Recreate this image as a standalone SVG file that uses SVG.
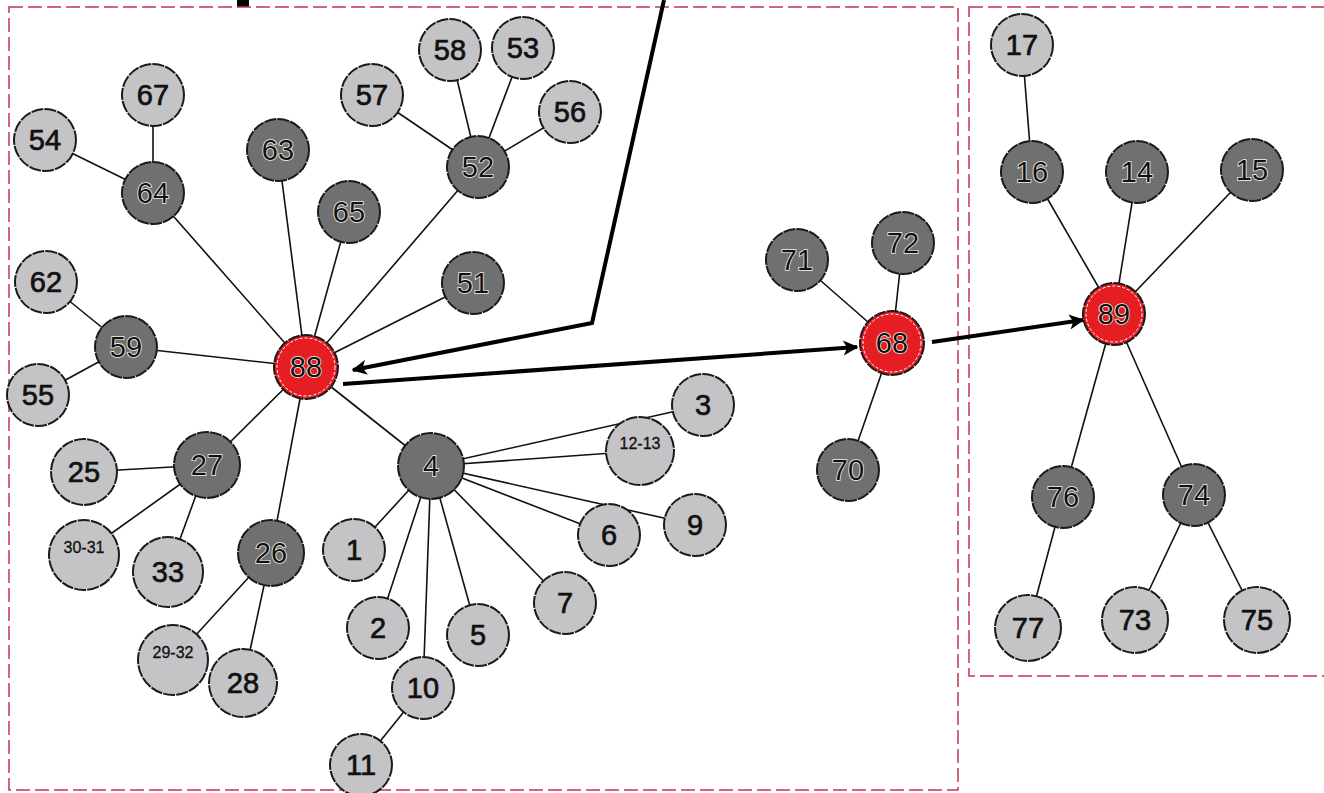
<svg xmlns="http://www.w3.org/2000/svg" width="1324" height="793" viewBox="0 0 1324 793">
<defs>
<style>
.box{fill:none;stroke:#c0394f;stroke-width:1.5;stroke-dasharray:14 5}
.e{stroke:#111;stroke-width:1.6;fill:none}
.a{stroke:#000;stroke-width:4;fill:none;stroke-linejoin:miter}
.n circle.b{stroke:#1a1a1a;stroke-width:2;stroke-dasharray:12 1.2}
.l circle.b{fill:#c4c4c6}
.d circle.b{fill:#707070}
.r circle.b{fill:#e41e23}
.r circle.i{fill:none;stroke:#fff;stroke-width:1;stroke-dasharray:3 2}
text{font-family:"Liberation Sans",Arial,sans-serif;font-size:29px;fill:#111;text-anchor:middle}
.l text{stroke:#111;stroke-width:0.7}
.d text,.r text{stroke:#f4f0e8;stroke-width:1.6;paint-order:stroke;fill:#111}
text.s{font-size:16px;stroke-width:0.3}
</style>
<marker id="ah" viewBox="0 0 10 10" refX="9" refY="5" markerWidth="4.6" markerHeight="3.8" orient="auto" markerUnits="strokeWidth">
<path d="M0,0 L10,5 L0,10 L2.5,5 Z" fill="#000"/>
</marker>
</defs>
<rect width="1324" height="793" fill="#fff"/>
<rect x="237" y="0" width="12" height="7" fill="#000"/>
<rect class="box" x="9" y="7" width="949" height="783"/>
<rect class="box" x="969" y="7" width="362" height="669"/>
<g id="connectors">
<line class="e" x1="306" y1="367" x2="153" y2="193"/>
<line class="e" x1="306" y1="367" x2="278" y2="150"/>
<line class="e" x1="306" y1="367" x2="349" y2="212"/>
<line class="e" x1="306" y1="367" x2="478" y2="167"/>
<line class="e" x1="306" y1="367" x2="473" y2="283"/>
<line class="e" x1="306" y1="367" x2="126" y2="347"/>
<line class="e" x1="306" y1="367" x2="207" y2="465"/>
<line class="e" x1="306" y1="367" x2="271" y2="553"/>
<line class="e" x1="306" y1="367" x2="431" y2="466"/>
<line class="e" x1="153" y1="193" x2="45" y2="140"/>
<line class="e" x1="153" y1="193" x2="153" y2="95"/>
<line class="e" x1="126" y1="347" x2="46" y2="282"/>
<line class="e" x1="126" y1="347" x2="38" y2="395"/>
<line class="e" x1="478" y1="167" x2="372" y2="95"/>
<line class="e" x1="478" y1="167" x2="450" y2="50"/>
<line class="e" x1="478" y1="167" x2="523" y2="48"/>
<line class="e" x1="478" y1="167" x2="570" y2="112"/>
<line class="e" x1="207" y1="465" x2="84" y2="472"/>
<line class="e" x1="207" y1="465" x2="84" y2="553"/>
<line class="e" x1="207" y1="465" x2="168" y2="572"/>
<line class="e" x1="271" y1="553" x2="173" y2="660"/>
<line class="e" x1="271" y1="553" x2="243" y2="683"/>
<line class="e" x1="431" y1="466" x2="703" y2="405"/>
<line class="e" x1="431" y1="466" x2="640" y2="451"/>
<line class="e" x1="431" y1="466" x2="695" y2="525"/>
<line class="e" x1="431" y1="466" x2="609" y2="535"/>
<line class="e" x1="431" y1="466" x2="565" y2="603"/>
<line class="e" x1="431" y1="466" x2="478" y2="635"/>
<line class="e" x1="431" y1="466" x2="423" y2="688"/>
<line class="e" x1="431" y1="466" x2="378" y2="628"/>
<line class="e" x1="431" y1="466" x2="354" y2="550"/>
<line class="e" x1="423" y1="688" x2="361" y2="765"/>
<line class="e" x1="892" y1="343" x2="797" y2="260"/>
<line class="e" x1="892" y1="343" x2="903" y2="243"/>
<line class="e" x1="892" y1="343" x2="848" y2="470"/>
<line class="e" x1="1114" y1="314" x2="1032" y2="172"/>
<line class="e" x1="1114" y1="314" x2="1137" y2="172"/>
<line class="e" x1="1114" y1="314" x2="1252" y2="170"/>
<line class="e" x1="1114" y1="314" x2="1063" y2="497"/>
<line class="e" x1="1114" y1="314" x2="1194" y2="495"/>
<line class="e" x1="1032" y1="172" x2="1022" y2="45"/>
<line class="e" x1="1063" y1="497" x2="1028" y2="628"/>
<line class="e" x1="1194" y1="495" x2="1135" y2="620"/>
<line class="e" x1="1194" y1="495" x2="1257" y2="620"/>
<polyline class="a" points="664,0 592,323 353,370" marker-end="url(#ah)"/>
<line class="a" x1="343" y1="384" x2="857" y2="347" marker-end="url(#ah)"/>
<line class="a" x1="932" y1="342" x2="1083" y2="320" marker-end="url(#ah)"/>
</g>
<g id="nodes">
<g id="n58" class="n l"><circle class="b" cx="450" cy="50" r="31"/><text x="450" y="60">58</text></g>
<g id="n53" class="n l"><circle class="b" cx="523" cy="48" r="31"/><text x="523" y="58">53</text></g>
<g id="n17" class="n l"><circle class="b" cx="1022" cy="45" r="31"/><text x="1022" y="55">17</text></g>
<g id="n67" class="n l"><circle class="b" cx="153" cy="95" r="31"/><text x="153" y="105">67</text></g>
<g id="n57" class="n l"><circle class="b" cx="372" cy="95" r="31"/><text x="372" y="105">57</text></g>
<g id="n56" class="n l"><circle class="b" cx="570" cy="112" r="31"/><text x="570" y="122">56</text></g>
<g id="n54" class="n l"><circle class="b" cx="45" cy="140" r="31"/><text x="45" y="150">54</text></g>
<g id="n63" class="n d"><circle class="b" cx="278" cy="150" r="31"/><text x="278" y="160">63</text></g>
<g id="n52" class="n d"><circle class="b" cx="478" cy="167" r="31"/><text x="478" y="177">52</text></g>
<g id="n16" class="n d"><circle class="b" cx="1032" cy="172" r="31"/><text x="1032" y="182">16</text></g>
<g id="n14" class="n d"><circle class="b" cx="1137" cy="172" r="31"/><text x="1137" y="182">14</text></g>
<g id="n15" class="n d"><circle class="b" cx="1252" cy="170" r="31"/><text x="1252" y="180">15</text></g>
<g id="n64" class="n d"><circle class="b" cx="153" cy="193" r="31"/><text x="153" y="203">64</text></g>
<g id="n65" class="n d"><circle class="b" cx="349" cy="212" r="31"/><text x="349" y="222">65</text></g>
<g id="n71" class="n d"><circle class="b" cx="797" cy="260" r="31"/><text x="797" y="270">71</text></g>
<g id="n72" class="n d"><circle class="b" cx="903" cy="243" r="31"/><text x="903" y="253">72</text></g>
<g id="n51" class="n d"><circle class="b" cx="473" cy="283" r="31"/><text x="473" y="293">51</text></g>
<g id="n62" class="n l"><circle class="b" cx="46" cy="282" r="31"/><text x="46" y="292">62</text></g>
<g id="n59" class="n d"><circle class="b" cx="126" cy="347" r="31"/><text x="126" y="357">59</text></g>
<g id="n55" class="n l"><circle class="b" cx="38" cy="395" r="31"/><text x="38" y="405">55</text></g>
<g id="n89" class="n r"><circle class="b" cx="1114" cy="314" r="31"/><circle class="i" cx="1114" cy="314" r="28"/><text x="1114" y="324">89</text></g>
<g id="n88" class="n r"><circle class="b" cx="306" cy="367" r="32"/><circle class="i" cx="306" cy="367" r="29"/><text x="306" y="377">88</text></g>
<g id="n68" class="n r"><circle class="b" cx="892" cy="343" r="32"/><circle class="i" cx="892" cy="343" r="29"/><text x="892" y="353">68</text></g>
<g id="n3" class="n l"><circle class="b" cx="703" cy="405" r="31"/><text x="703" y="415">3</text></g>
<g id="n12-13" class="n l"><circle class="b" cx="640" cy="451" r="34"/><text class="s" x="640" y="449">12-13</text></g>
<g id="n4" class="n d"><circle class="b" cx="431" cy="466" r="33"/><text x="431" y="476">4</text></g>
<g id="n27" class="n d"><circle class="b" cx="207" cy="465" r="33"/><text x="207" y="475">27</text></g>
<g id="n25" class="n l"><circle class="b" cx="84" cy="472" r="33"/><text x="84" y="482">25</text></g>
<g id="n70" class="n d"><circle class="b" cx="848" cy="470" r="31"/><text x="848" y="480">70</text></g>
<g id="n76" class="n d"><circle class="b" cx="1063" cy="497" r="31"/><text x="1063" y="507">76</text></g>
<g id="n74" class="n d"><circle class="b" cx="1194" cy="495" r="31"/><text x="1194" y="505">74</text></g>
<g id="n30-31" class="n l"><circle class="b" cx="84" cy="555" r="35"/><text class="s" x="84" y="553">30-31</text></g>
<g id="n9" class="n l"><circle class="b" cx="695" cy="525" r="31"/><text x="695" y="535">9</text></g>
<g id="n6" class="n l"><circle class="b" cx="609" cy="535" r="31"/><text x="609" y="545">6</text></g>
<g id="n26" class="n d"><circle class="b" cx="271" cy="553" r="33"/><text x="271" y="563">26</text></g>
<g id="n33" class="n l"><circle class="b" cx="168" cy="572" r="35"/><text x="168" y="582">33</text></g>
<g id="n1" class="n l"><circle class="b" cx="354" cy="550" r="31"/><text x="354" y="560">1</text></g>
<g id="n7" class="n l"><circle class="b" cx="565" cy="603" r="31"/><text x="565" y="613">7</text></g>
<g id="n2" class="n l"><circle class="b" cx="378" cy="628" r="31"/><text x="378" y="638">2</text></g>
<g id="n5" class="n l"><circle class="b" cx="478" cy="635" r="31"/><text x="478" y="645">5</text></g>
<g id="n29-32" class="n l"><circle class="b" cx="173" cy="660" r="35"/><text class="s" x="173" y="658">29-32</text></g>
<g id="n28" class="n l"><circle class="b" cx="243" cy="683" r="34"/><text x="243" y="693">28</text></g>
<g id="n77" class="n l"><circle class="b" cx="1028" cy="628" r="33"/><text x="1028" y="638">77</text></g>
<g id="n73" class="n l"><circle class="b" cx="1135" cy="620" r="33"/><text x="1135" y="630">73</text></g>
<g id="n75" class="n l"><circle class="b" cx="1257" cy="620" r="33"/><text x="1257" y="630">75</text></g>
<g id="n10" class="n l"><circle class="b" cx="423" cy="688" r="31"/><text x="423" y="698">10</text></g>
<g id="n11" class="n l"><circle class="b" cx="361" cy="765" r="31"/><text x="361" y="775">11</text></g>
</g>
</svg>
